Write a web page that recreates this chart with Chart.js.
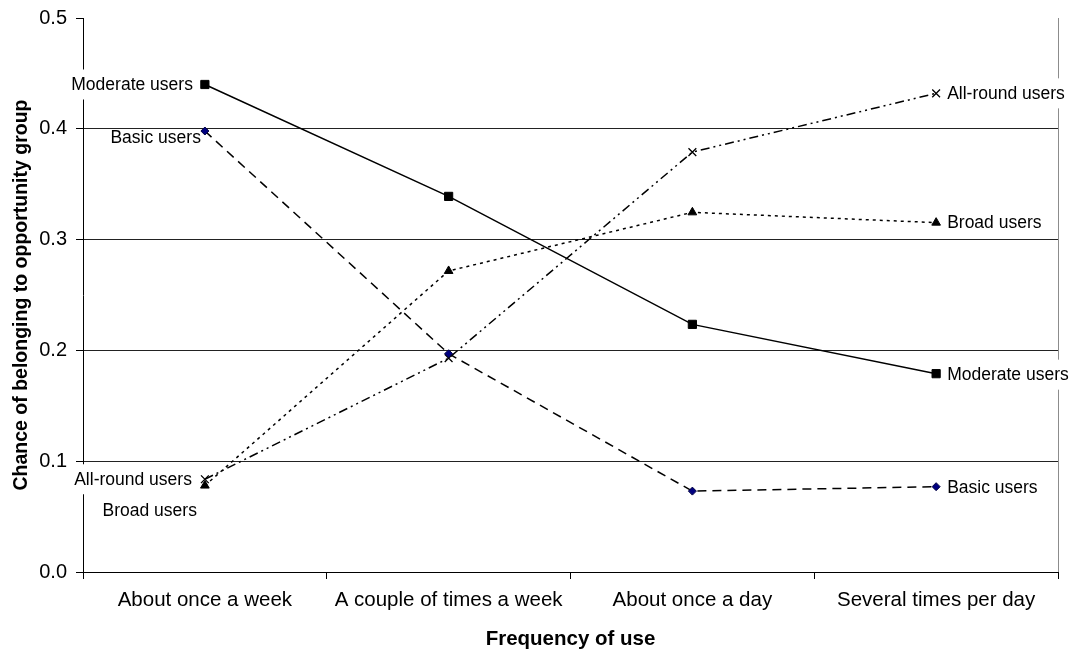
<!DOCTYPE html>
<html>
<head>
<meta charset="utf-8">
<script src="https://cdn.jsdelivr.net/npm/chart.js@4/dist/chart.umd.min.js"></script>
<style>
  html, body { margin: 0; padding: 0; background: #fff; }
  #wrap { width: 1076px; height: 652px; }
</style>
</head>
<body>
<div id="wrap"><canvas id="c" width="1076" height="652"></canvas></div>
<script>
// Frequency-of-use categories and the chance of belonging to each opportunity group
const categories = ['About once a week', 'A couple of times a week', 'About once a day', 'Several times per day'];
const seriesNames = ['Moderate users', 'Basic users', 'All-round users', 'Broad users'];
const moderateUsers = [0.440, 0.339, 0.2235, 0.179];
const basicUsers    = [0.398, 0.197, 0.073, 0.077];
const allRoundUsers = [0.0837, 0.193, 0.379, 0.432];
const broadUsers    = [0.078, 0.2717, 0.3246, 0.3153];
const yTicks = [0.0, 0.1, 0.2, 0.3, 0.4, 0.5];

const FONT = '"Liberation Sans", Arial, Helvetica, sans-serif';

// Series name labels placed beside the first and last point of each line
const labelStyle = [
  { ds: 0, idx: 0, align: 'right', dx: -12, dy: 0,  box: true },
  { ds: 0, idx: 3, align: 'left',  dx: 11,  dy: 1,  box: true },
  { ds: 1, idx: 0, align: 'right', dx: -4,  dy: 6,  box: false },
  { ds: 1, idx: 3, align: 'left',  dx: 11,  dy: 0,  box: true },
  { ds: 2, idx: 0, align: 'right', dx: -13, dy: 0,  box: true },
  { ds: 2, idx: 3, align: 'left',  dx: 11,  dy: 0,  box: true },
  { ds: 3, idx: 0, align: 'right', dx: -8,  dy: 25, box: true },
  { ds: 3, idx: 3, align: 'left',  dx: 11,  dy: 0,  box: true }
];

const seriesLabels = {
  id: 'seriesLabels',
  beforeDatasetsDraw(chart) {
    // thin grey frame line on the right side of the plot
    const { ctx, chartArea } = chart;
    ctx.save();
    ctx.strokeStyle = '#8c8c8c';
    ctx.lineWidth = 1;
    ctx.beginPath();
    ctx.moveTo(Math.round(chartArea.right) + 0.5, chartArea.top);
    ctx.lineTo(Math.round(chartArea.right) + 0.5, chartArea.bottom);
    ctx.stroke();
    ctx.restore();
  },
  afterDatasetsDraw(chart) {
    const ctx = chart.ctx;
    ctx.save();
    ctx.font = '17.5px ' + FONT;
    ctx.textBaseline = 'middle';
    labelStyle.forEach(s => {
      const pt = chart.getDatasetMeta(s.ds).data[s.idx];
      const text = chart.data.datasets[s.ds].label;
      const x = pt.x + s.dx, y = pt.y + s.dy;
      const w = ctx.measureText(text).width;
      const left = s.align === 'right' ? x - w : x;
      if (s.box) {
        ctx.fillStyle = '#fff';
        ctx.fillRect(left - 3, y - 15, w + 6, 30);
      }
      ctx.fillStyle = '#000';
      ctx.textAlign = s.align;
      ctx.fillText(text, x, y + 1);
    });
    ctx.restore();
  }
};

new Chart(document.getElementById('c'), {
  type: 'line',
  data: {
    labels: categories,
    datasets: [
      {
        label: seriesNames[0], data: moderateUsers,
        borderColor: '#000', borderWidth: 1.5,
        pointStyle: 'rect', pointRadius: 5.8,
        pointBackgroundColor: '#000', pointBorderColor: '#000', pointBorderWidth: 1
      },
      {
        label: seriesNames[1], data: basicUsers,
        borderColor: '#000', borderWidth: 1.5, borderDash: [9, 6],
        pointStyle: 'rectRot', pointRadius: 4,
        pointBackgroundColor: '#000080', pointBorderColor: '#000040', pointBorderWidth: 1
      },
      {
        label: seriesNames[2], data: allRoundUsers,
        borderColor: '#000', borderWidth: 1.5, borderDash: [9, 4, 2, 4, 2, 4],
        pointStyle: 'crossRot', pointRadius: 5.5,
        pointBackgroundColor: '#000', pointBorderColor: '#000', pointBorderWidth: 1.3
      },
      {
        label: seriesNames[3], data: broadUsers,
        borderColor: '#000', borderWidth: 1.5, borderDash: [3, 4],
        pointStyle: 'triangle', pointRadius: 5,
        pointBackgroundColor: '#000', pointBorderColor: '#000', pointBorderWidth: 1
      }
    ]
  },
  options: {
    responsive: false,
    animation: false,
    devicePixelRatio: 1,
    layout: { padding: { left: 0, right: 18, top: 18, bottom: 0 } },
    plugins: {
      legend: { display: false },
      tooltip: { enabled: false }
    },
    elements: { line: { tension: 0 } },
    scales: {
      x: {
        type: 'category',
        offset: true,
        afterFit(scale) { scale.height = 80; },
        grid: {
          offset: true,
          drawOnChartArea: false,
          tickLength: 7,
          color: '#000',
          tickColor: '#000'
        },
        border: { color: '#000', width: 1 },
        ticks: {
          color: '#000',
          font: { family: FONT, size: 20.5 },
          padding: 9,
          maxRotation: 0,
          autoSkip: false
        },
        title: {
          display: true,
          text: 'Frequency of use',
          color: '#000',
          font: { family: FONT, size: 20.5, weight: 'bold' },
          padding: { top: 4, bottom: 0 }
        }
      },
      y: {
        min: yTicks[0],
        max: yTicks[yTicks.length - 1],
        afterFit(scale) {
          scale.width = 83;
          scale.paddingTop = 0;
          scale.paddingBottom = 0;
        },
        afterBuildTicks(scale) { scale.ticks = yTicks.map(v => ({ value: v })); },
        grid: {
          tickLength: 7,
          color: ctx => (ctx.tick && ctx.tick.value > 0 && ctx.tick.value < 0.5) ? '#222' : 'rgba(0,0,0,0)',
          tickColor: '#000',
          lineWidth: 1
        },
        border: { color: '#000', width: 1 },
        ticks: {
          color: '#000',
          font: { family: FONT, size: 20 },
          padding: 9,
          callback: v => Number(v).toFixed(1)
        },
        title: {
          display: true,
          text: 'Chance of belonging to opportunity group',
          color: '#000',
          font: { family: FONT, size: 19.5, weight: 'bold' },
          padding: { top: 10, bottom: 0 }
        }
      }
    }
  },
  plugins: [seriesLabels]
});
</script>
</body>
</html>
